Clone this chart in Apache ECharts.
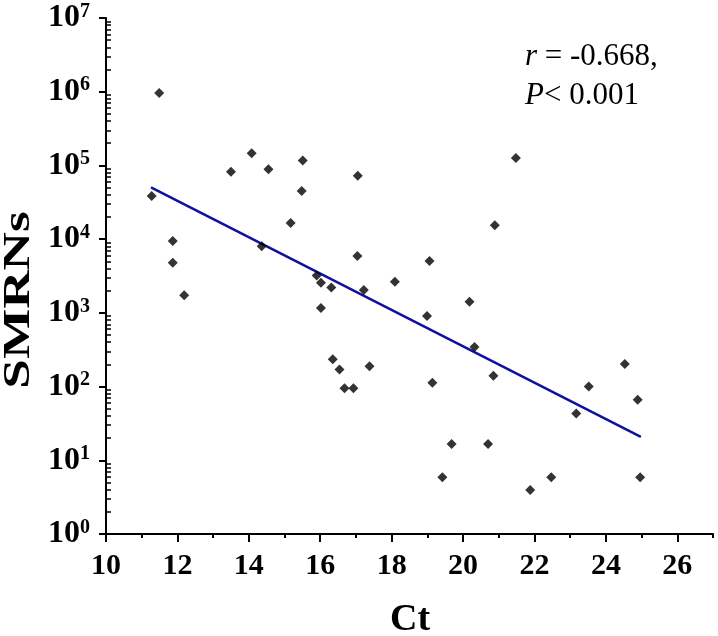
<!DOCTYPE html>
<html>
<head>
<meta charset="utf-8">
<script src="https://cdn.jsdelivr.net/npm/echarts@6/dist/echarts.min.js"></script>
<style>
  html, body { margin: 0; padding: 0; background: #fff; }
  #chart { width: 718px; height: 636px; }
</style>
</head>
<body>
<div id="chart"></div>
<script>
// Ct vs SMRNs
var ctValues = [11.28, 11.49, 11.87, 11.87, 12.19, 13.50, 14.08, 14.36, 14.55, 15.17,
    15.48, 15.51, 15.90, 16.02, 16.02, 16.31, 16.35, 16.54, 16.68, 16.93,
    17.04, 17.05, 17.22, 17.38, 18.09, 18.99, 19.06, 19.14, 19.42, 19.68,
    20.18, 20.32, 20.70, 20.85, 20.89, 21.48, 21.88, 22.47, 23.17, 23.52,
    24.53, 24.89, 24.96];
var smrnValues = [38500, 960000, 9400, 4800, 1740, 82000, 146000, 8000, 89000, 16500,
    45000, 117000, 3200, 2570, 1160, 2200, 234, 171, 95, 95,
    5900, 72500, 2050, 188, 2640, 906, 5050, 113, 5.9, 16.6,
    1420, 344, 16.6, 140, 15400, 126000, 3.94, 5.9, 43, 100,
    202, 66, 5.9];

// regression line end points
var fitX = [11.26, 24.98];
var fitY = [50500, 20.8];

var xMajorTicks = [10, 12, 14, 16, 18, 20, 22, 24, 26];
var xMinorTicks = [11, 13, 15, 17, 19, 21, 23, 25, 27];
var yMajorTicks = [1, 10, 100, 1000, 10000, 100000, 1000000, 10000000];

var yMinorTicks = [];
for (var d = 0; d < 7; d++) {
    for (var k = 2; k <= 9; k++) {
        yMinorTicks.push(k * Math.pow(10, d));
    }
}

var font = 'Liberation Serif';

var points = [];
for (var i = 0; i < ctValues.length; i++) {
    points.push([ctValues[i], smrnValues[i]]);
}
var fitLine = [];
for (var j = 0; j < fitX.length; j++) {
    fitLine.push([fitX[j], fitY[j]]);
}

var chart = echarts.init(document.getElementById('chart'));

var option = {
    animation: false,
    backgroundColor: '#fff',
    grid: {
        left: 106,
        right: 5,
        top: 18,
        bottom: 102
    },
    xAxis: [{
        type: 'value',
        min: 10,
        max: 27,
        position: 'bottom',
        axisLine: { lineStyle: { color: '#000', width: 2 } },
        axisTick: {
            length: 8,
            customValues: xMajorTicks,
            lineStyle: { color: '#000', width: 2 }
        },
        axisLabel: {
            customValues: xMajorTicks,
            margin: 17,
            color: '#000',
            fontFamily: font,
            fontWeight: 'bold',
            fontSize: 30
        },
        splitLine: { show: false }
    }, {
        type: 'value',
        min: 10,
        max: 27,
        position: 'bottom',
        axisLine: { show: false },
        axisTick: {
            length: 4,
            customValues: xMinorTicks,
            lineStyle: { color: '#000', width: 2 }
        },
        axisLabel: { show: false },
        splitLine: { show: false }
    }],
    yAxis: [{
        type: 'log',
        logBase: 10,
        min: 1,
        max: 10000000,
        position: 'left',
        axisLine: { lineStyle: { color: '#000', width: 2 } },
        axisTick: {
            length: 7,
            customValues: yMajorTicks,
            lineStyle: { color: '#000', width: 2 }
        },
        axisLabel: {
            customValues: yMajorTicks,
            margin: 16,
            color: '#000',
            formatter: function(v) {
                var e = Math.round(Math.log(v) / Math.LN10);
                return '{b|10}{s|' + e + '}';
            },
            rich: {
                b: { fontFamily: font, fontWeight: 'bold', fontSize: 32, color: '#000' },
                s: { fontFamily: font, fontWeight: 'bold', fontSize: 20, color: '#000',
                     verticalAlign: 'top', padding: [0, 0, 13, 0] }
            }
        },
        splitLine: { show: false }
    }, {
        type: 'log',
        logBase: 10,
        min: 1,
        max: 10000000,
        position: 'left',
        axisLine: { show: false },
        axisTick: {
            inside: true,
            length: 5,
            customValues: yMinorTicks,
            lineStyle: { color: '#000', width: 1.5 }
        },
        axisLabel: { show: false },
        splitLine: { show: false }
    }],
    graphic: [{
        type: 'text',
        x: 19,
        y: 300,
        rotation: Math.PI / 2,
        scaleX: 1.4,
        style: {
            text: 'SMRNs',
            fontFamily: font,
            fontWeight: 'bold',
            fontSize: 38,
            fill: '#000',
            align: 'center',
            verticalAlign: 'middle'
        }
    }, {
        type: 'text',
        x: 410,
        y: 620,
        style: {
            text: 'Ct',
            fontFamily: font,
            fontWeight: 'bold',
            fontSize: 38,
            fill: '#000',
            align: 'center',
            verticalAlign: 'middle'
        }
    }, {
        type: 'text',
        x: 525,
        y: 57,
        style: {
            text: '{i|r} = -0.668,',
            fontFamily: font,
            fontSize: 31,
            fill: '#000',
            align: 'left',
            verticalAlign: 'middle',
            rich: {
                i: { fontFamily: font, fontSize: 31, fontStyle: 'italic', fill: '#000' }
            }
        }
    }, {
        type: 'text',
        x: 525,
        y: 96,
        style: {
            text: '{i|P}< 0.001',
            fontFamily: font,
            fontSize: 31,
            fill: '#000',
            align: 'left',
            verticalAlign: 'middle',
            rich: {
                i: { fontFamily: font, fontSize: 31, fontStyle: 'italic', fill: '#000' }
            }
        }
    }],
    series: [{
        name: 'SMRNs',
        type: 'scatter',
        symbol: 'diamond',
        symbolSize: 10,
        itemStyle: { color: '#000' },
        data: points
    }, {
        name: 'fit',
        type: 'line',
        showSymbol: false,
        symbol: 'none',
        lineStyle: { color: '#1010a0', width: 2.5 },
        data: fitLine,
        z: 1
    }]
};

chart.setOption(option);
</script>
</body>
</html>
